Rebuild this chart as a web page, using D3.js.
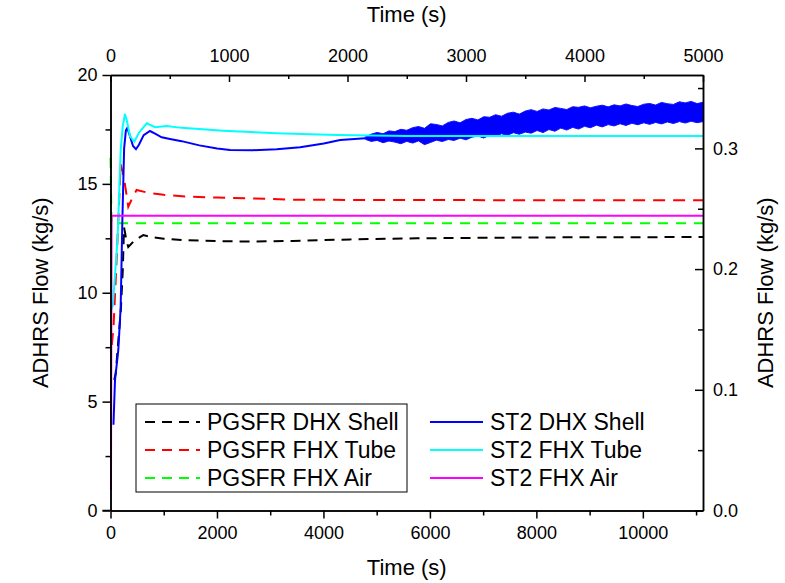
<!doctype html>
<html lang="en">
<head>
    <meta charset="UTF-8">
    <title>adhrs-flow</title>
    <style>
        body { margin: 0; background: #fff; }
        svg text { font-family: "Liberation Sans", Arial, sans-serif; fill: #000; }
        .axis path, .axis line { stroke: #000; stroke-width: 1.5px; }
        .axis text { font-size: 18px; }
        .title { font-size: 22px; }
        .legend text { font-size: 23px; }
        .series { fill: none; stroke-width: 2px; }
    </style>
</head>
<body>

<svg width="785" height="583"></svg>

<script src="https://d3js.org/d3.v7.min.js"></script>
<script>
  // PGSFR runs: bottom time axis (s), left flow axis (kg/s)
  const pgDhxShellT = [70, 98, 147, 192, 230, 254, 300, 334, 450, 616, 742, 1000, 1367, 2000, 2620, 3427, 4498, 5750, 8000, 11130]
  const pgDhxShellV = [6.0, 6.3, 7.8, 9.1, 11.0, 13.0, 12.4, 12.1, 12.4, 12.65, 12.57, 12.48, 12.42, 12.37, 12.35, 12.38, 12.45, 12.5, 12.54, 12.56]

  const pgFhxTubeT = [25, 40, 60, 103, 150, 191, 254, 334, 420, 490, 740, 1000, 1400, 2000, 2600, 3500, 5000, 8000, 11130]
  const pgFhxTubeV = [7.6, 8.0, 8.6, 10.9, 13.5, 15.9, 15.27, 13.95, 14.4, 14.72, 14.57, 14.5, 14.42, 14.37, 14.34, 14.27, 14.26, 14.25, 14.25]

  const pgFhxAirT = [0, 20, 11130]
  const pgFhxAirV = [16.2, 13.19, 13.19]

  // ST2 runs: top time axis (s), right flow axis (kg/s)
  const stDhxShellT = [25, 38, 66, 86, 100, 115, 130, 142, 165, 190, 215, 240, 280, 333, 380, 432, 502, 600, 750, 900, 1009, 1200, 1403, 1600, 1800, 1938, 2150]
  const stDhxShellV = [0.071, 0.108, 0.133, 0.169, 0.24, 0.30, 0.315, 0.317, 0.31, 0.302, 0.2993, 0.303, 0.311, 0.3144, 0.312, 0.3092, 0.3078, 0.306, 0.3025, 0.300, 0.2987, 0.2985, 0.2992, 0.301, 0.304, 0.307, 0.3085]

  // oscillating part of ST2 DHX Shell: band edges
  const stOscT = [2150, 2200, 2250, 2300, 2350, 2400, 2450, 2500, 2550, 2600, 2650, 2700, 2750, 2800, 2850, 2900, 2950, 3000, 3050, 3100, 3150, 3200, 3250, 3300, 3350, 3400, 3450, 3500, 3550, 3600, 3650, 3700, 3750, 3800, 3850, 3900, 3950, 4000, 4050, 4100, 4150, 4200, 4250, 4300, 4350, 4400, 4450, 4500, 4550, 4600, 4650, 4700, 4750, 4800, 4850, 4900, 4950, 5000]
  const stOscHi = [0.3095, 0.3118, 0.3132, 0.3121, 0.3145, 0.3139, 0.3158, 0.3150, 0.3172, 0.3181, 0.3166, 0.3204, 0.3198, 0.3186, 0.3215, 0.3227, 0.3212, 0.3239, 0.3249, 0.3236, 0.3262, 0.3258, 0.3279, 0.3266, 0.3291, 0.3300, 0.3284, 0.3309, 0.3321, 0.3306, 0.3327, 0.3318, 0.3339, 0.3331, 0.3322, 0.3345, 0.3340, 0.3352, 0.3336, 0.3349, 0.3358, 0.3344, 0.3361, 0.3352, 0.3368, 0.3355, 0.3347, 0.3366, 0.3372, 0.3359, 0.3381, 0.3370, 0.3364, 0.3386, 0.3377, 0.3389, 0.3371, 0.3382]
  const stOscLo = [0.3075, 0.3058, 0.3066, 0.3047, 0.3061, 0.3052, 0.3039, 0.3058, 0.3044, 0.3062, 0.3031, 0.3049, 0.3068, 0.3057, 0.3074, 0.3066, 0.3085, 0.3071, 0.3093, 0.3102, 0.3086, 0.3110, 0.3099, 0.3121, 0.3108, 0.3130, 0.3117, 0.3135, 0.3126, 0.3148, 0.3131, 0.3156, 0.3142, 0.3168, 0.3152, 0.3174, 0.3160, 0.3183, 0.3171, 0.3192, 0.3178, 0.3197, 0.3186, 0.3204, 0.3190, 0.3208, 0.3196, 0.3212, 0.3199, 0.3215, 0.3203, 0.3219, 0.3206, 0.3222, 0.3210, 0.3225, 0.3213, 0.3222]

  const stFhxTubeT = [0, 20, 45, 60, 86, 103, 122, 140, 165, 201, 240, 306, 376, 474, 600, 950, 1400, 1910, 2500, 5000]
  const stFhxTubeV = [0.165, 0.17, 0.205, 0.225, 0.2987, 0.318, 0.3285, 0.322, 0.31, 0.3056, 0.313, 0.3208, 0.3175, 0.3186, 0.317, 0.3147, 0.3125, 0.3111, 0.3103, 0.3103]

  const stFhxAirT = [4, 9, 5000]
  const stFhxAirV = [0.017, 0.2442, 0.2442]

  // ticks
  const bottomTicks = [0, 2000, 4000, 6000, 8000, 10000]
  const bottomMinor = [1000, 3000, 5000, 7000, 9000, 11000]
  const topTicks = [0, 1000, 2000, 3000, 4000, 5000]
  const topMinor = [500, 1500, 2500, 3500, 4500]
  const leftTicks = [0, 5, 10, 15, 20]
  const leftMinor = [2.5, 7.5, 12.5, 17.5]
  const rightTicks = [0, 0.1, 0.2, 0.3]
  const rightMinor = [0.05, 0.15, 0.25, 0.35]

  const legendLeft = ['PGSFR DHX Shell', 'PGSFR FHX Tube', 'PGSFR FHX Air']
  const legendRight = ['ST2 DHX Shell', 'ST2 FHX Tube', 'ST2 FHX Air']

  const L = 110.5, R = 703, T = 75, B = 510.5

  const xB = d3.scaleLinear().domain([0, 11130]).range([L, R])
  const xT = d3.scaleLinear().domain([0, 5000]).range([L, R])
  const yL = d3.scaleLinear().domain([0, 20]).range([B, T])
  const yR = d3.scaleLinear().domain([0, 0.3608]).range([B, T])

  const svg = d3.select('svg')

  const zip = (ts, vs) => ts.map((t, i) => [t, vs[i]])
  const lineB = d3.line().x(d => xB(d[0])).y(d => yL(d[1]))
  const lineT = d3.line().x(d => xT(d[0])).y(d => yR(d[1]))

  const g = svg.append('g')

  // PGSFR (dashed)
  g.append('path').datum(zip(pgDhxShellT, pgDhxShellV)).attr('class', 'series')
    .attr('stroke', '#000000').attr('stroke-dasharray', '10,7').attr('d', lineB)
  g.append('path').datum(zip(pgFhxTubeT, pgFhxTubeV)).attr('class', 'series')
    .attr('stroke', '#ff0000').attr('stroke-dasharray', '12,8').attr('d', lineB)
  g.append('path').datum(zip(pgFhxAirT, pgFhxAirV)).attr('class', 'series')
    .attr('stroke', '#00ff00').attr('stroke-dasharray', '10,8').attr('d', lineB)

  // ST2 (solid)
  g.append('path').datum(zip(stDhxShellT, stDhxShellV)).attr('class', 'series')
    .attr('stroke', '#0000ff').attr('d', lineT)
  const band = d3.area()
    .x(d => xT(d[0])).y0(d => yR(d[2])).y1(d => yR(d[1]))
  g.append('path').datum(stOscT.map((t, i) => [t, stOscHi[i], stOscLo[i]]))
    .attr('fill', '#0000ff').attr('stroke', '#1010ff').attr('stroke-width', 1)
    .attr('d', band)
  g.append('path').datum(zip(stFhxTubeT, stFhxTubeV)).attr('class', 'series')
    .attr('stroke', '#00ffff').attr('d', lineT)
  g.append('path').datum(zip(stFhxAirT, stFhxAirV)).attr('class', 'series')
    .attr('stroke', '#ff00ff').attr('d', lineT)

  // axes
  const ax = (axis, tr) => svg.append('g').attr('class', 'axis').attr('transform', tr).call(axis)
  const fmt = d3.format('d')

  ax(d3.axisBottom(xB).tickValues(bottomMinor).tickSize(5).tickSizeOuter(0).tickFormat(''), `translate(0,${B})`)
  ax(d3.axisBottom(xB).tickValues(bottomTicks).tickSize(8).tickSizeOuter(0).tickPadding(8).tickFormat(fmt), `translate(0,${B})`)
  ax(d3.axisTop(xT).tickValues(topMinor).tickSize(-4).tickSizeOuter(0).tickFormat(''), `translate(0,${T})`)
  ax(d3.axisTop(xT).tickValues(topTicks).tickSize(-7).tickSizeOuter(0).tickPadding(13).tickFormat(fmt), `translate(0,${T})`)
  ax(d3.axisLeft(yL).tickValues(leftMinor).tickSize(5).tickSizeOuter(0).tickFormat(''), `translate(${L},0)`)
  ax(d3.axisLeft(yL).tickValues(leftTicks).tickSize(8).tickSizeOuter(0).tickPadding(5).tickFormat(fmt), `translate(${L},0)`)
  ax(d3.axisRight(yR).tickValues(rightMinor).tickSize(-5).tickSizeOuter(0).tickFormat(''), `translate(${R},0)`)
  ax(d3.axisRight(yR).tickValues(rightTicks).tickSize(-8).tickSizeOuter(0).tickPadding(10).tickFormat(d3.format('.1f')), `translate(${R},0)`)

  // bottom axis line runs under the left ticks
  svg.append('line').attr('x1', L - 8).attr('x2', L).attr('y1', B).attr('y2', B)
    .attr('stroke', '#000').attr('stroke-width', 1.5)

  // titles
  svg.append('text').attr('class', 'title').attr('x', (L + R) / 2).attr('y', 575)
    .attr('text-anchor', 'middle').text('Time (s)')
  svg.append('text').attr('class', 'title').attr('x', (L + R) / 2).attr('y', 22)
    .attr('text-anchor', 'middle').text('Time (s)')
  svg.append('text').attr('class', 'title').attr('text-anchor', 'middle')
    .attr('transform', `translate(48,${(T + B) / 2}) rotate(-90)`).text('ADHRS Flow (kg/s)')
  svg.append('text').attr('class', 'title').attr('text-anchor', 'middle')
    .attr('transform', `translate(773,${(T + B) / 2}) rotate(-90)`).text('ADHRS Flow (kg/s)')

  // legend
  const lg = svg.append('g').attr('class', 'legend')
  lg.append('rect').attr('x', 136).attr('y', 404).attr('width', 271).attr('height', 88)
    .attr('fill', '#fff').attr('stroke', '#000').attr('stroke-width', 1)
  const leftStyles = [['#000000', '10,7'], ['#ff0000', '10,7'], ['#00ff00', '10,7']]
  const rightColors = ['#0000ff', '#00ffff', '#ff00ff']
  const rowY = [422, 450, 478]
  legendLeft.forEach((name, i) => {
    lg.append('line').attr('x1', 145).attr('x2', 200).attr('y1', rowY[i]).attr('y2', rowY[i])
      .attr('stroke', leftStyles[i][0]).attr('stroke-width', 2).attr('stroke-dasharray', leftStyles[i][1])
    lg.append('text').attr('x', 207).attr('y', rowY[i] + 8).text(name)
  })
  legendRight.forEach((name, i) => {
    lg.append('line').attr('x1', 430).attr('x2', 483).attr('y1', rowY[i]).attr('y2', rowY[i])
      .attr('stroke', rightColors[i]).attr('stroke-width', 2)
    lg.append('text').attr('x', 490).attr('y', rowY[i] + 8).text(name)
  })
</script>
</body>
</html>
